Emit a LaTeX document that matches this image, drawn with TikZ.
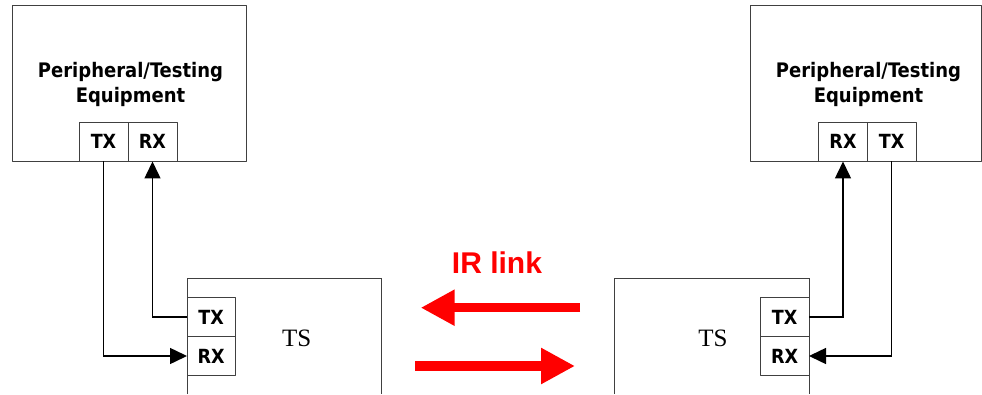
\documentclass[tikz,border=0pt]{standalone}
\usepackage{fontspec}
\usepackage{tkz-euclide}
\usetikzlibrary{arrows.meta}
\newfontfamily\pefont{DejaVu Sans Condensed}
\newfontfamily\tsfont{Liberation Serif}
\newfontfamily\irfont{Liberation Sans}
\tikzset{
  boxline/.style={line width=0.8pt,draw=black!75,line cap=butt},
  wire/.style={line width=1.5pt,draw=black,line cap=butt,-{Triangle[length=17pt,width=16pt]}},
  irarrow/.style={draw=red,line width=9.5pt,line cap=butt,-{Triangle[length=34pt,width=34pt]}},
  petext/.style={font=\pefont\bfseries\fontsize{20}{25}\selectfont,align=center},
  portlabel/.style={font=\pefont\bfseries\fontsize{19.5}{20}\selectfont},
  tstext/.style={font=\tsfont\fontsize{25}{26}\selectfont},
}
\begin{document}
\begin{tikzpicture}[x=1pt,y=1pt]
		\tkzInit
		\useasboundingbox (0,0) rectangle (982,394);
		% 左侧设备
		\tkzDefPoint(12,232.5){A} \tkzDefPoint(246,232.5){B}
		\tkzDefPoint(246,388.5){C} \tkzDefPoint(12,388.5){D}
		\tkzDefPoint(79,232.5){M1} \tkzDefPoint(128,232.5){M2} \tkzDefPoint(177,232.5){M3}
		\tkzDefPoint(79,272){N1} \tkzDefPoint(128,272){N2} \tkzDefPoint(177,272){N3}
		% 左侧 TS
		\tkzDefPoint(187,0){S1} \tkzDefPoint(187,115.7){S2}
		\tkzDefPoint(381,115.7){S3} \tkzDefPoint(381,0){S4}
		\tkzDefPoint(187,96.3){U1} \tkzDefPoint(235.3,96.3){U2}
		\tkzDefPoint(187,57.3){V1} \tkzDefPoint(235.3,57.3){V2}
		\tkzDefPoint(187,18.7){W1} \tkzDefPoint(235.3,18.7){W2}
		% 左侧连线
		\tkzDefPoint(103.5,232.5){X1} \tkzDefPoint(103.5,38){X2} \tkzDefPoint(187,38){Y1}
		\tkzDefPoint(187,76.8){Y2} \tkzDefPoint(152.5,76.8){X3} \tkzDefPoint(152.5,232.5){X4}
		% 右侧设备
		\tkzDefPoint(750,232.5){A'} \tkzDefPoint(981.5,232.5){B'}
		\tkzDefPoint(981.5,388.5){C'} \tkzDefPoint(750,388.5){D'}
		\tkzDefPoint(818.7,232.5){M1'} \tkzDefPoint(867.3,232.5){M2'} \tkzDefPoint(916,232.5){M3'}
		\tkzDefPoint(818.7,272){N1'} \tkzDefPoint(867.3,272){N2'} \tkzDefPoint(916,272){N3'}
		% 右侧 TS
		\tkzDefPoint(614.3,0){S1'} \tkzDefPoint(614.3,115.7){S2'}
		\tkzDefPoint(809,115.7){S3'} \tkzDefPoint(809,0){S4'}
		\tkzDefPoint(760.3,96.3){U1'} \tkzDefPoint(809,96.3){U2'}
		\tkzDefPoint(760.3,57.3){V1'} \tkzDefPoint(809,57.3){V2'}
		\tkzDefPoint(760.3,18.7){W1'} \tkzDefPoint(809,18.7){W2'}
		% 右侧连线
		\tkzDefPoint(891.7,232.5){X1'} \tkzDefPoint(891.7,38){X2'} \tkzDefPoint(809,38){Y1'}
		\tkzDefPoint(809,76.8){Y2'} \tkzDefPoint(843,76.8){X3'} \tkzDefPoint(843,232.5){X4'}
		% 红外箭头
		\tkzDefPoint(580,86.3){R1} \tkzDefPoint(420.7,86.3){R2}
		\tkzDefPoint(415,28){R3} \tkzDefPoint(575,28){R4}
		% 方框
		\tkzDrawPolygon[boxline](A,B,C,D)
		\tkzDrawPolygon[boxline](M1,M3,N3,N1)
		\tkzDrawSegment[boxline](M2,N2)
		\tkzDrawPolySeg[boxline](S1,S2,S3,S4)
		\tkzDrawPolygon[boxline](W1,W2,U2,U1)
		\tkzDrawSegment[boxline](V1,V2)
		\tkzDrawPolygon[boxline](A',B',C',D')
		\tkzDrawPolygon[boxline](M1',M3',N3',N1')
		\tkzDrawSegment[boxline](M2',N2')
		\tkzDrawPolySeg[boxline](S1',S2',S3',S4')
		\tkzDrawPolygon[boxline](W1',W2',U2',U1')
		\tkzDrawSegment[boxline](V1',V2')
		% 连线
		\tkzDrawPolySeg[wire](X1,X2,Y1)
		\tkzDrawPolySeg[wire](Y2,X3,X4)
		\tkzDrawPolySeg[wire](Y2',X3',X4')
		\tkzDrawPolySeg[wire](X1',X2',Y1')
		\tkzDrawSegment[irarrow](R1,R2)
		\tkzDrawSegment[irarrow](R3,R4)
		% 文字
		\node[petext] (lpe) at (130.5,309.5) {Peripheral/Testing\\Equipment};
		\node[petext] (rpe) at (868.5,309.5) {Peripheral/Testing\\Equipment};
		\node[portlabel] (lpetx) at (103.5,252.25) {TX};
		\node[portlabel] (lperx) at (152.5,252.25) {RX};
		\node[portlabel] (rperx) at (843,252.25) {RX};
		\node[portlabel] (rpetx) at (891.7,252.25) {TX};
		\node[portlabel] (ltstx) at (211.2,76.8) {TX};
		\node[portlabel] (ltsrx) at (211.2,38) {RX};
		\node[portlabel] (rtstx) at (784.7,76.8) {TX};
		\node[portlabel] (rtsrx) at (784.7,38) {RX};
		\node[tstext] (lts) at (296.7,56) {TS};
		\node[tstext] (rts) at (713,56) {TS};
		\node[font=\irfont\bfseries\fontsize{30}{32}\selectfont,text=red] (ir) at (497,131) {IR link};
	\end{tikzpicture}
\end{document}
